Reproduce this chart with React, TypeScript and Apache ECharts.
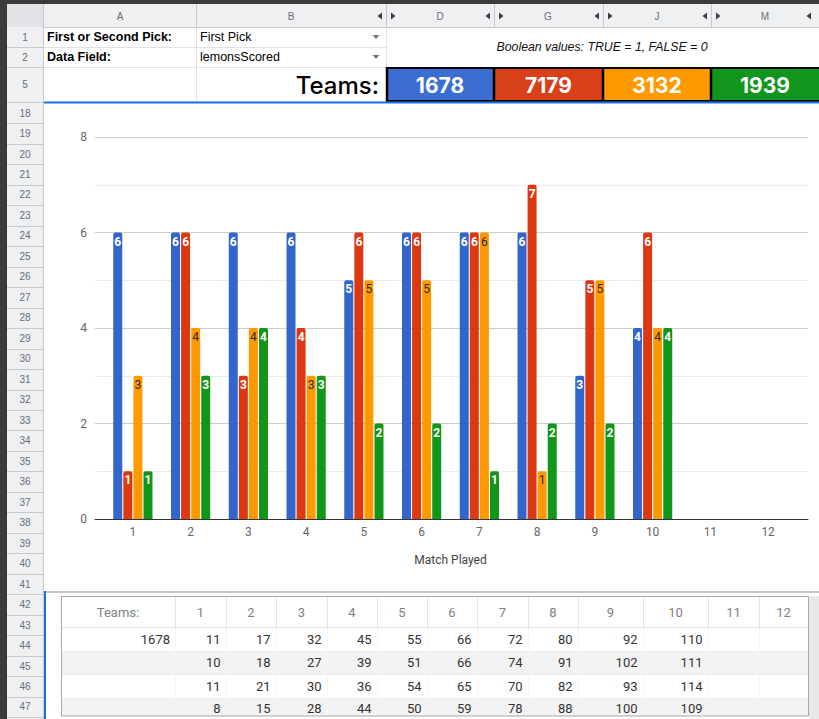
import React, { useEffect, useRef } from "react";
import * as echarts from "echarts";

// ---------- data ----------
const matches = ["1", "2", "3", "4", "5", "6", "7", "8", "9", "10", "11", "12"];
const teamNames = ["1678", "7179", "3132", "1939"];
const team1678 = [6, 6, 6, 6, 5, 6, 6, 6, 3, 4];
const team7179 = [1, 6, 3, 4, 6, 6, 6, 7, 5, 6];
const team3132 = [3, 4, 4, 3, 5, 5, 6, 1, 5, 4];
const team1939 = [1, 3, 4, 3, 2, 2, 1, 2, 2, 4];
const yTicks = { min: 0, max: 8, interval: 2 };

const tableHeader = ["Teams:", "1", "2", "3", "4", "5", "6", "7", "8", "9", "10", "11", "12"];
const tableTeamLabels = ["1678", "", "", ""];
const cumRow1 = [11, 17, 32, 45, 55, 66, 72, 80, 92, 110];
const cumRow2 = [10, 18, 27, 39, 51, 66, 74, 91, 102, 111];
const cumRow3 = [11, 21, 30, 36, 54, 65, 70, 82, 93, 114];
const cumRow4 = [8, 15, 28, 44, 50, 59, 78, 88, 100, 109];

const pickLabel = "First or Second Pick:";
const pickValue = "First Pick";
const fieldLabel = "Data Field:";
const fieldValue = "lemonsScored";
const booleanNote = "Boolean values: TRUE = 1, FALSE = 0";
const columnLetters = ["A", "B", "D", "G", "J", "M"];
const topRowNumbers = ["1", "2", "5"];
const firstChartRow = 18;
const lastRow = 47;

// ---------- style ----------
const barColors = ["#3366cc", "#dc3912", "#ff9900", "#109618"];
const cellColors = ["#3c6dd0", "#d8401a", "#ff9b00", "#11951c"];
const SHEET_FONT = '"Liberation Sans", Arial, sans-serif';
const CHART_FONT = "Roboto, sans-serif";
const HDR_BG = "#eef0f2";
const HDR_LINE = "#c6c9cc";
const CELL_LINE = "#e2e2e2";

const rect = (x: number, y: number, w: number, h: number, fill: string, stroke?: string, lw?: number) => ({
  type: "rect",
  silent: true,
  shape: { x, y, width: w, height: h },
  style: { fill, stroke: stroke || null, lineWidth: lw || 0 },
});
const line = (x1: number, y1: number, x2: number, y2: number, stroke: string, lw = 1) => ({
  type: "line",
  silent: true,
  shape: { x1, y1, x2, y2 },
  style: { stroke, lineWidth: lw },
});
const text = (
  x: number,
  y: number,
  t: string,
  font: string,
  fill: string,
  align: string = "left"
) => ({
  type: "text",
  silent: true,
  x,
  y,
  style: { text: t, font, fill, textAlign: align, textVerticalAlign: "middle" },
});
const tri = (cx: number, cy: number, dir: "l" | "r" | "d", fill: string) => {
  let pts: number[][];
  if (dir === "l") pts = [[cx + 2, cy - 3.5], [cx + 2, cy + 3.5], [cx - 2.5, cy]];
  else if (dir === "r") pts = [[cx - 2, cy - 3.5], [cx - 2, cy + 3.5], [cx + 2.5, cy]];
  else pts = [[cx - 3.5, cy - 2], [cx + 3.5, cy - 2], [cx, cy + 2]];
  return { type: "polygon", silent: true, shape: { points: pts }, style: { fill } };
};

function buildGraphics() {
  const g: any[] = [];
  // dark app frame
  g.push(rect(0, 0, 819, 4, "#3b3b3b"));
  g.push(rect(0, 0, 7, 719, "#3b3b3b"));
  // column header row
  g.push(rect(7, 4, 812, 23, HDR_BG));
  g.push(rect(7, 4, 37, 23, "#e1e3e6"));
  g.push(line(7, 27.5, 819, 27.5, HDR_LINE));
  // row header column
  g.push(rect(7, 27, 37, 692, HDR_BG));
  g.push(line(43.5, 4, 43.5, 719, HDR_LINE));
  // column header separators + letters
  const colSeps = [196, 386, 494, 603, 711];
  colSeps.forEach((x) => g.push(line(x + 0.5, 4, x + 0.5, 27, HDR_LINE)));
  const letterX = [120, 291, 440, 548, 657, 765];
  columnLetters.forEach((c, i) => g.push(text(letterX[i], 16, c, `10px ${SHEET_FONT}`, "#6b6f73", "center")));
  [386, 494, 603, 711].forEach((x) => {
    g.push(tri(x - 6, 16, "l", "#3c4043"));
    g.push(tri(x + 7, 16, "r", "#3c4043"));
  });
  g.push(tri(809, 16, "l", "#3c4043"));

  // top rows headers
  const topRowY = [37, 57, 84.5];
  topRowNumbers.forEach((n, i) => g.push(text(25, topRowY[i], n, `10px ${SHEET_FONT}`, "#6b6f73", "center")));
  [47, 67, 102].forEach((y) => g.push(line(7, y + 0.5, 44, y + 0.5, HDR_LINE)));

  // top cells grid
  g.push(line(44, 47.5, 386, 47.5, CELL_LINE));
  g.push(line(44, 67.5, 386, 67.5, CELL_LINE));
  g.push(line(196.5, 27, 196.5, 102, CELL_LINE));
  g.push(line(386.5, 27, 386.5, 67, CELL_LINE));

  g.push(text(47, 37, pickLabel, `bold 12.5px ${SHEET_FONT}`, "#000"));
  g.push(text(47, 57, fieldLabel, `bold 12.5px ${SHEET_FONT}`, "#000"));
  g.push(text(200, 37, pickValue, `12.5px ${SHEET_FONT}`, "#000"));
  g.push(text(200, 57, fieldValue, `12.5px ${SHEET_FONT}`, "#000"));
  g.push(tri(376, 37, "d", "#777"));
  g.push(tri(376, 57, "d", "#777"));
  g.push(text(602, 47, booleanNote, `italic 12.3px ${SHEET_FONT}`, "#111", "center"));

  g.push(text(379, 85, "Teams:", `500 24px Inter, "Noto Sans", sans-serif`, "#000", "right"));
  const cellX = [386, 494, 603, 711, 819];
  teamNames.forEach((t, i) => {
    const x0 = cellX[i];
    const w = cellX[i + 1] - x0;
    g.push(rect(x0, 67, w, 35, cellColors[i]));
    g.push(text(x0 + w / 2, 85, t, `bold 21px Inter, "Noto Sans", sans-serif`, "#ffffff", "center"));
  });
  g.push(line(386, 68, 819, 68, "#000", 2));
  g.push(line(386, 101, 819, 101, "#000", 2));
  [387, 494, 603, 711].forEach((x) => g.push(line(x, 67, x, 102, "#000", 2.5)));

  // chart rows headers
  const rowH = 20.48;
  const top = 102.8;
  for (let r = firstChartRow; r <= lastRow; r++) {
    const y0 = top + (r - firstChartRow) * rowH;
    g.push(text(25, y0 + rowH / 2, String(r), `10px ${SHEET_FONT}`, "#6b6f73", "center"));
    g.push(line(7, Math.round(y0 + rowH) + 0.5, 44, Math.round(y0 + rowH) + 0.5, HDR_LINE));
  }

  // chart region selection top line
  g.push(line(44, 102.5, 819, 102.5, "#1a73e8", 2));
  // separator between chart and table region
  g.push(line(44, 592, 819, 592, "#c7c7c7", 2));
  g.push(line(45, 591, 45, 719, "#1a73e8", 2));

  // table
  const colB = [61, 175, 226, 276, 327, 377, 427, 477, 528, 578, 643, 708, 759, 808];
  const rowB = [596, 627, 651, 674, 698, 716];
  g.push(rect(61, 596, 747, 120, "#ffffff"));
  g.push(rect(61, rowB[2], 747, rowB[3] - rowB[2], "#f3f3f3"));
  g.push(rect(61, rowB[4], 747, rowB[5] - rowB[4], "#f3f3f3"));
  for (let i = 1; i < colB.length - 1; i++) {
    g.push(line(colB[i] + 0.5, 596, colB[i] + 0.5, 627, "#e6e6e6"));
    g.push(line(colB[i] + 0.5, 627, colB[i] + 0.5, 716, "#f6f6f6"));
  }
  g.push(line(61, 627.5, 808, 627.5, "#e3e3e3"));
  [651, 674, 698].forEach((y) => g.push(line(61, y + 0.5, 808, y + 0.5, "#ececec")));
  g.push(rect(61.5, 596.5, 747, 119.5, "rgba(0,0,0,0)", "#a8a8a8", 1));
  g.push(rect(809, 596, 10, 123, "#e8e8e8"));

  tableHeader.forEach((h, i) => {
    const cx = (colB[i] + colB[i + 1]) / 2;
    g.push(text(cx, 612, h, `13px ${CHART_FONT}`, "#808080", "center"));
  });
  const rows = [cumRow1, cumRow2, cumRow3, cumRow4];
  rows.forEach((vals, r) => {
    const cy = (rowB[r + 1] + rowB[r + 2]) / 2 + (r === 3 ? 1 : 0);
    if (tableTeamLabels[r]) g.push(text(colB[1] - 5, cy, tableTeamLabels[r], `13px ${CHART_FONT}`, "#333", "right"));
    vals.forEach((v, c) => {
      g.push(text(colB[c + 2] - 5.5, cy, String(v), `13px ${CHART_FONT}`, "#333", "right"));
    });
  });
  return g;
}

export default function App() {
  const ref = useRef<HTMLDivElement>(null);
  useEffect(() => {
    document.body.style.margin = "0";
    if (!ref.current) return;
    const chart = echarts.init(ref.current, null, { renderer: "svg" });
    const seriesData = [team1678, team7179, team3132, team1939];
    const option: any = {
      animation: false,
      backgroundColor: "#ffffff",
      grid: [
        { left: 95, right: 11, top: 137, bottom: 200 },
        { left: 104, right: 22, top: 137, bottom: 200 },
      ],
      xAxis: [
        {
          gridIndex: 0,
          type: "value",
          min: 0,
          max: 1,
          axisLine: { show: true, lineStyle: { color: "#333", width: 1 } },
          axisTick: { show: false },
          axisLabel: { show: false },
          splitLine: { show: false },
        },
        {
          gridIndex: 1,
          type: "category",
          data: matches,
          axisLine: { show: false },
          axisTick: { show: false },
          axisLabel: { color: "#666666", fontSize: 12, fontFamily: CHART_FONT, margin: 7 },
          name: "Match Played",
          nameLocation: "middle",
          nameGap: 35,
          nameTextStyle: { color: "#444", fontSize: 12, fontFamily: CHART_FONT },
        },
      ],
      yAxis: [
        {
          gridIndex: 0,
          type: "value",
          min: yTicks.min,
          max: yTicks.max,
          interval: yTicks.interval,
          axisLine: { show: false },
          axisTick: { show: false },
          axisLabel: { color: "#666666", fontSize: 12, fontFamily: CHART_FONT, margin: 8 },
          splitLine: { show: true, lineStyle: { color: "#cccccc" } },
          minorTick: { show: false, splitNumber: 2 },
          minorSplitLine: { show: true, lineStyle: { color: "#ebebeb" } },
        },
        {
          gridIndex: 1,
          type: "value",
          min: yTicks.min,
          max: yTicks.max,
          show: false,
        },
      ],
      series: seriesData.map((d, i) => ({
        type: "bar",
        name: teamNames[i],
        xAxisIndex: 1,
        yAxisIndex: 1,
        data: d,
        barWidth: 9,
        barGap: "12%",
        itemStyle: { color: barColors[i], borderRadius: [2, 2, 0, 0] },
        label: {
          show: true,
          position: "insideTop",
          distance: 3,
          fontSize: 12,
          fontFamily: CHART_FONT,
          fontWeight: i === 2 ? "normal" : "bold",
          color: i === 2 ? "#2a2a2a" : "#ffffff",
        },
      })),
      graphic: { elements: buildGraphics() },
    };
    chart.setOption(option);
    return () => chart.dispose();
  }, []);
  return <div ref={ref} style={{ width: 819, height: 719 }} />;
}
